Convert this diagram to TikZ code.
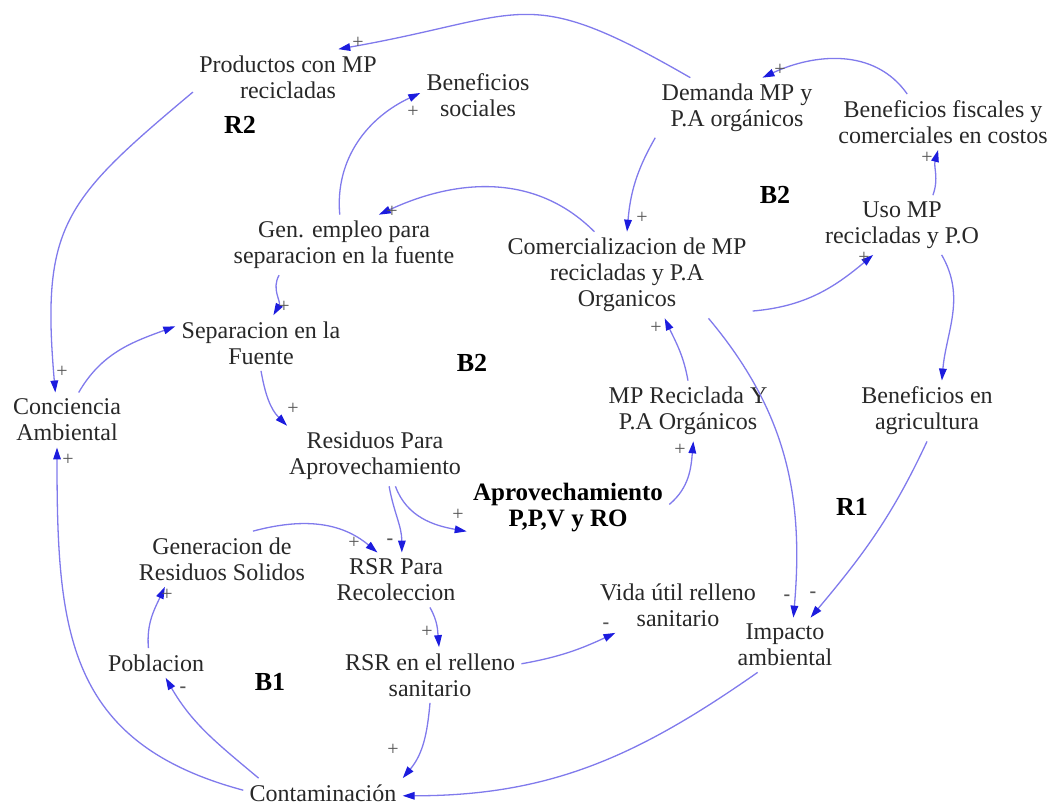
\documentclass[tikz,border=0pt]{standalone}
\usepackage{fontspec}
\setmainfont{Liberation Serif}
\usetikzlibrary{arrows.meta}
\definecolor{linkblue}{RGB}{128,122,236}
\definecolor{tipblue}{RGB}{28,28,222}
\definecolor{textgray}{RGB}{40,40,40}
\definecolor{signgray}{RGB}{85,85,85}
\begin{document}
\begin{tikzpicture}[x=0.5pt,y=0.5pt]
	\tikzstyle{every node}+=[inner sep=3pt]
	\tikzstyle{var}=[align=center,text=textgray,font=\fontsize{12}{13}\selectfont]
	\tikzstyle{loopname}=[text=black,font=\fontsize{13}{13}\selectfont\bfseries]
	\tikzstyle{sign}=[inner sep=0pt,text=signgray,font=\fontsize{10}{10}\selectfont]
	\tikzstyle{link}=[linkblue,line width=0.65pt,-{Triangle[length=6pt,width=3.8pt,color=tipblue]}]
	\useasboundingbox (0,0) rectangle (1053,-806);
	\node [var] (prod) at (288,-77) {Productos con MP\\recicladas};
	\node [var] (bsoc) at (478,-95) {Beneficios\\sociales};
	\node [var] (dem) at (737,-108) {Demanda MP y\\P.A orgánicos};
	\node [var] (bfis) at (943,-122) {Beneficios fiscales y\\comerciales en costos};
	\node [var] (gen) at (344,-245) {Gen. empleo para\\separacion en la fuente};
	\node [var] (com) at (627,-275) {Comercializacion de MP\\recicladas y P.A\\Organicos};
	\node [var] (uso) at (902,-225) {Uso MP\\recicladas y P.O};
	\node [var] (sep) at (261,-343) {Separacion en la\\Fuente};
	\node [var] (conc) at (67,-420) {Conciencia\\Ambiental};
	\node [var] (res) at (375,-456) {Residuos Para\\Aprovechamiento};
	\node [var,font=\fontsize{12.5}{13}\selectfont\bfseries,text=black] (aprov) at (568,-508) {Aprovechamiento\\P,P,V y RO};
	\node [var] (mpr) at (688,-411) {MP Reciclada Y\\P.A Orgánicos};
	\node [var] (bagr) at (927,-411) {Beneficios en\\agricultura};
	\node [var] (gene) at (222,-559) {Generacion de\\Residuos Solidos};
	\node [var] (rsrp) at (396,-580) {RSR Para\\Recoleccion};
	\node [var] (pob) at (156,-663) {Poblacion};
	\node [var] (rsrr) at (430,-675) {RSR en el relleno\\sanitario};
	\node [var] (cont) at (323,-793) {Contaminación};
	\node [var] (vida) at (678,-605) {Vida útil relleno\\sanitario};
	\node [var] (imp) at (785,-645) {Impacto\\ambiental};
	\node [loopname] (r2) at (240,-125) {R2};
	\node [loopname] (b2a) at (775,-195) {B2};
	\node [loopname] (b2b) at (472,-363) {B2};
	\node [loopname] (r1) at (852,-507) {R1};
	\node [loopname] (b1) at (270,-682) {B1};
	\draw [link] (dem.147) to[out=150,in=10,looseness=1.4] (prod.29);
	\draw [link] (prod.189) to[out=220,in=95,looseness=1.3] (conc.113);
	\draw [link] (conc.67) to[out=60,in=200] (sep.169);
	\draw [link] (gen.205) to[out=240,in=60] (sep.66);
	\draw [link] (gen.98) to[out=95,in=205] (bsoc.178);
	\draw [link] (com.127) to[out=135,in=25] (gen.41);
	\draw [link] (dem.200) to[out=240,in=85] (com.90);
	\draw [link] (bfis.142) to[out=125,in=25] (dem.50);
	\draw [link] (uso.44) to[out=70,in=255] (bfis.260);
	\draw [link] (com.-16) to[out=5,in=220] (uso.226);
	\draw [link] (uso.-37) to[out=300,in=85] (bagr.64);
	\draw [link] (bagr.270) to[out=245,in=50] (imp.47);
	\draw [link] (com.-28) to[out=310,in=85] (imp.73);
	\draw [link] (mpr.90) to[out=100,in=295] (com.311);
	\draw [link] (aprov.2) to[out=40,in=265] (mpr.280);
	\draw [link] (res.304) to[out=290,in=170] (aprov.193);
	\draw [link] (res.295) to[out=280,in=90] (rsrp.78);
	\draw [link] (gene.42) to[out=15,in=140] (rsrp.124);
	\draw [link] (sep.270) to[out=280,in=135] (res.161);
	\draw [link] (pob.117) to[out=95,in=245] (gene.206);
	\draw [link] (cont.167) to[out=140,in=300] (pob.303);
	\draw [link] (cont.178) to[out=165,in=270,looseness=1.2] (conc.250);
	\draw [link] (rsrp.321) to[out=300,in=95] (rsrr.72);
	\draw [link] (rsrr.270) to[out=265,in=50] (cont.north east);
	\draw [link] (rsrr.7) to[out=10,in=205] (vida.204);
	\draw [link] (imp.225) to[out=215,in=0] (cont.358);
	\node [sign] (s1) at (358,-43) {+};
	\node [sign] (s2) at (62,-372) {+};
	\node [sign] (s4) at (284,-307) {+};
	\node [sign] (s5) at (413,-112) {+};
	\node [sign] (s6) at (392,-212) {+};
	\node [sign] (s7) at (642,-218) {+};
	\node [sign] (s8) at (780,-70) {+};
	\node [sign] (s9) at (927,-158) {+};
	\node [sign] (s10) at (864,-258) {+};
	\node [sign] (s12) at (813,-595) {\textbf{-}};
	\node [sign] (s13) at (787,-598) {\textbf{-}};
	\node [sign] (s14) at (656,-328) {+};
	\node [sign] (s15) at (680,-450) {+};
	\node [sign] (s16) at (458,-515) {+};
	\node [sign] (s17) at (390,-542) {\textbf{-}};
	\node [sign] (s18) at (354,-543) {+};
	\node [sign] (s19) at (293,-409) {+};
	\node [sign] (s20) at (167,-595) {+};
	\node [sign] (s21) at (183,-690) {\textbf{-}};
	\node [sign] (s22) at (68,-460) {+};
	\node [sign] (s23) at (427,-632) {+};
	\node [sign] (s24) at (393,-750) {+};
	\node [sign] (s25) at (606,-626) {\textbf{-}};
\end{tikzpicture}
\end{document}
